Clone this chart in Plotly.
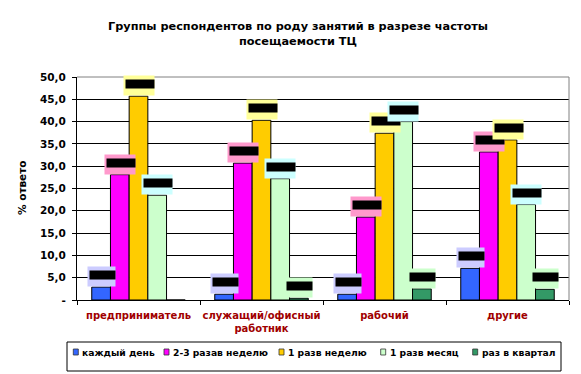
import plotly.graph_objects as go

# ---- data ----
categories = ["предприниматель", "служащий/офисный<br>работник", "рабочий", "другие"]
series_names = ["каждый день", "2-3 разав неделю", "1 разв неделю", "1 разв месяц", "раз в квартал"]
every_day = [2.9, 1.3, 1.3, 7.1]
two_three_week = [28.1, 30.7, 18.6, 33.2]
once_week = [45.7, 40.3, 37.4, 35.9]
once_month = [23.5, 27.2, 40.0, 21.4]
once_quarter = [0.0, 0.4, 2.5, 2.4]
y_tick_values = [0, 5, 10, 15, 20, 25, 30, 35, 40, 45, 50]
y_tick_labels = ["-", "5,0", "10,0", "15,0", "20,0", "25,0", "30,0", "35,0", "40,0", "45,0", "50,0"]

series_values = [every_day, two_three_week, once_week, once_month, once_quarter]

# ---- style ----
bar_colors = ["#3366FF", "#FF00FF", "#FFCC00", "#CCFFCC", "#339966"]
label_bg = ["#CCCCFF", "#FF99CC", "#FFFF99", "#CCFFFF", "#CCFFCC"]
FONT = "DejaVu Sans"
W, H = 581, 374
ML, MR, MT, MB = 77, 12, 77, 74
PW, PH = W - ML - MR, H - MT - MB
BARGAP = 0.24
x_pos = list(range(len(categories)))


def px_x(px):
    return (px - ML) / PW


def px_y(py):
    return (H - MB - py) / PH


fig = go.Figure()
for i, (name, vals) in enumerate(zip(series_names, series_values)):
    fig.add_trace(go.Bar(
        x=x_pos, y=vals, name=name,
        marker=dict(color=bar_colors[i], line=dict(color="black", width=1)),
        showlegend=False, hoverinfo="skip",
    ))

annotations = []
n = len(series_values)
bw = (1 - BARGAP) / n
for i, vals in enumerate(series_values):
    for k, v in enumerate(vals):
        if v <= 0:
            continue
        txt = f"{v:.1f}".replace(".", ",")
        w_in = 3 * len(txt) + 16
        xc = x_pos[k] + (i - (n - 1) / 2) * bw
        annotations.append(dict(
            x=xc, y=v, xref="x", yref="y", xanchor="center", yanchor="bottom",
            text=" ", showarrow=False, width=w_in + 2, height=19, borderpad=0,
            bgcolor=label_bg[i], font=dict(size=6), yshift=0,
        ))
        annotations.append(dict(
            x=xc, y=v, xref="x", yref="y", xanchor="center", yanchor="bottom",
            text=" ", showarrow=False, width=w_in, height=8, borderpad=0,
            bgcolor="black", font=dict(size=6), yshift=7, xshift=1,
        ))

# title
annotations.append(dict(
    x=px_x(297.5), y=px_y(34), xref="paper", yref="paper",
    text="Группы респондентов по роду занятий в разрезе частоты<br>посещаемости ТЦ",
    showarrow=False, xanchor="center", yanchor="middle",
    font=dict(family=FONT, size=11.3, color="black", weight="bold"),
))

# y axis title
annotations.append(dict(
    x=px_x(22), y=px_y(188), xref="paper", yref="paper", text="% ответо",
    textangle=-90, showarrow=False, xanchor="center", yanchor="middle",
    font=dict(family=FONT, size=10.5, color="black", weight="bold"),
))

# manual legend
shapes = [
    dict(type="rect", xref="paper", yref="paper", x0=px_x(67), x1=px_x(561),
         y0=px_y(371), y1=px_y(342), line=dict(color="black", width=1),
         fillcolor="white", layer="above"),
    dict(type="line", xref="paper", yref="paper", x0=0, x1=1, y0=1, y1=1,
         line=dict(color="#808080", width=1), layer="above"),
    dict(type="line", xref="paper", yref="paper", x0=1, x1=1, y0=0, y1=1,
         line=dict(color="#808080", width=1), layer="above"),
]
leg_x = [73.3, 164, 279, 380.7, 472.7]
leg_y = 352
for i, name in enumerate(series_names):
    shapes.append(dict(type="rect", xref="paper", yref="paper",
                       x0=px_x(leg_x[i]), x1=px_x(leg_x[i] + 5),
                       y0=px_y(leg_y + 3), y1=px_y(leg_y - 3),
                       fillcolor=bar_colors[i], line=dict(color="#333333", width=0.8),
                       layer="above"))
    annotations.append(dict(
        x=px_x(leg_x[i] + 7), y=px_y(leg_y), xref="paper", yref="paper",
        text=name, showarrow=False, xanchor="left", yanchor="middle",
        font=dict(family=FONT, size=9.2, color="black", weight="bold"),
    ))

fig.update_layout(
    width=W, height=H,
    margin=dict(l=ML, r=MR, t=MT, b=MB, pad=0),
    paper_bgcolor="white", plot_bgcolor="white",
    barmode="group", bargap=BARGAP, bargroupgap=0,
    annotations=annotations, shapes=shapes,
    font=dict(family=FONT, color="black"),
    hovermode=False,
    xaxis=dict(
        range=[-0.5, len(categories) - 0.5],
        tickvals=x_pos, ticktext=categories, ticks="",
        showline=True, linecolor="black", linewidth=1, showgrid=False, zeroline=False,
        tickfont=dict(family=FONT, size=10, color="#A00000", weight="bold"),
        ticklabelstandoff=6,
        minor=dict(tickvals=[p - 0.5 for p in x_pos] + [x_pos[-1] + 0.5],
                   ticks="outside", ticklen=4, tickcolor="black", showgrid=False),
    ),
    yaxis=dict(
        range=[0, 50], tickvals=y_tick_values, ticktext=y_tick_labels,
        ticks="outside", ticklen=4, tickcolor="black",
        showline=True, linecolor="black", linewidth=1,
        showgrid=True, gridcolor="black", gridwidth=1, zeroline=False,
        tickfont=dict(family=FONT, size=10.5, color="black", weight="bold"),
        ticklabelstandoff=4,
    ),
)

fig.write_html("out.html", config={"displayModeBar": False, "staticPlot": True})

# remove default page margin so the figure sits at the window origin
with open("out.html", "r", encoding="utf-8") as f:
    html = f.read()
html = html.replace("<body>", '<body style="margin:0;padding:0;overflow:hidden">', 1)
with open("out.html", "w", encoding="utf-8") as f:
    f.write(html)
